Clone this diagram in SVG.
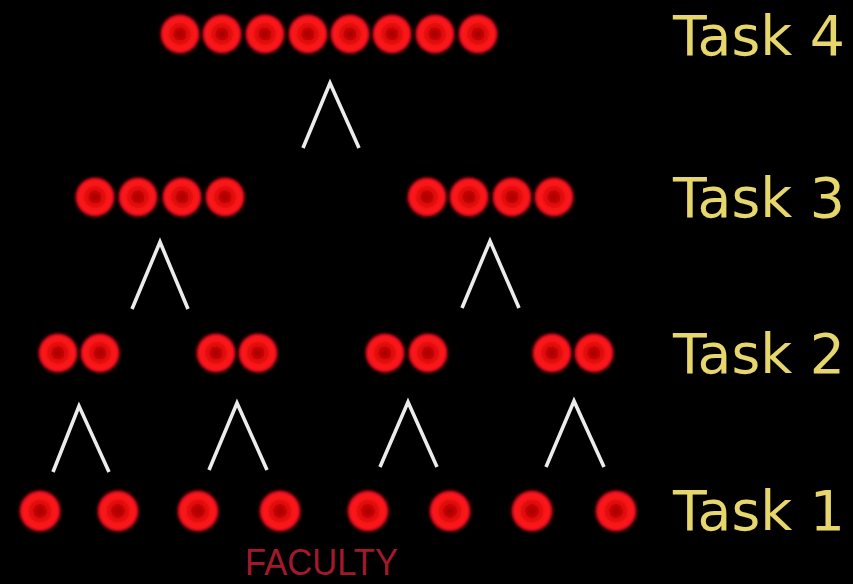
<svg xmlns="http://www.w3.org/2000/svg" width="853" height="584" viewBox="0 0 853 584">
  <defs>
    <radialGradient id="ball" cx="50%" cy="50%" r="50%">
      <stop offset="0%" stop-color="#9a0000"/>
      <stop offset="30%" stop-color="#d00606"/>
      <stop offset="65%" stop-color="#ff1818"/>
      <stop offset="85%" stop-color="#f01020"/>
      <stop offset="100%" stop-color="#500008" stop-opacity="0.3"/>
    </radialGradient>
    <filter id="soft" x="-20%" y="-20%" width="140%" height="140%">
      <feGaussianBlur stdDeviation="0.9"/>
    </filter>
  </defs>
  <style>
    .b { fill: url(#ball); filter: url(#soft); }
    .caret { fill: none; stroke: #ececec; stroke-width: 3.6; stroke-linejoin: miter; stroke-linecap: butt; }
    .lbl { font-family: "DejaVu Sans", "Liberation Sans", sans-serif; font-size: 56px; fill: #e6d66c; }
    .fac { font-family: "Liberation Sans Narrow", "Liberation Sans", sans-serif; font-size: 36px; fill: #a01a2c; }
  </style>
  <rect x="0" y="0" width="853" height="584" fill="#000000"/>

  <g id="task4">
    <circle class="b" cx="180" cy="34" r="21"/>
    <circle class="b" cx="222" cy="34" r="21"/>
    <circle class="b" cx="265" cy="34" r="21"/>
    <circle class="b" cx="308" cy="34" r="21"/>
    <circle class="b" cx="350" cy="34" r="21"/>
    <circle class="b" cx="392" cy="34" r="21"/>
    <circle class="b" cx="435" cy="34" r="21"/>
    <circle class="b" cx="478" cy="34" r="21"/>
  </g>

  <g id="task3-left">
    <circle class="b" cx="95" cy="197" r="21"/>
    <circle class="b" cx="138" cy="197" r="21"/>
    <circle class="b" cx="182" cy="197" r="21"/>
    <circle class="b" cx="225" cy="197" r="21"/>
  </g>
  <g id="task3-right">
    <circle class="b" cx="427" cy="197" r="21"/>
    <circle class="b" cx="469" cy="197" r="21"/>
    <circle class="b" cx="512" cy="197" r="21"/>
    <circle class="b" cx="554" cy="197" r="21"/>
  </g>

  <g id="task2-a">
    <circle class="b" cx="58" cy="353" r="21"/>
    <circle class="b" cx="100" cy="353" r="21"/>
  </g>
  <g id="task2-b">
    <circle class="b" cx="216" cy="353" r="21"/>
    <circle class="b" cx="258" cy="353" r="21"/>
  </g>
  <g id="task2-c">
    <circle class="b" cx="385" cy="353" r="21"/>
    <circle class="b" cx="428" cy="353" r="21"/>
  </g>
  <g id="task2-d">
    <circle class="b" cx="552" cy="353" r="21"/>
    <circle class="b" cx="594" cy="353" r="21"/>
  </g>

  <g id="task1">
    <circle class="b" cx="40" cy="511" r="22"/>
    <circle class="b" cx="118" cy="511" r="22"/>
    <circle class="b" cx="198" cy="511" r="22"/>
    <circle class="b" cx="280" cy="511" r="22"/>
    <circle class="b" cx="368" cy="511" r="22"/>
    <circle class="b" cx="450" cy="511" r="22"/>
    <circle class="b" cx="532" cy="511" r="22"/>
    <circle class="b" cx="616" cy="511" r="22"/>
  </g>

  <g id="connectors">
    <polyline class="caret" points="303,148 330,83 359,148"/>
    <polyline class="caret" points="132,309 160,242 188,309"/>
    <polyline class="caret" points="462,308 490,241 519,308"/>
    <polyline class="caret" points="53,472 79,406 109,472"/>
    <polyline class="caret" points="209,470 237,403 267,470"/>
    <polyline class="caret" points="380,467 408,402 437,467"/>
    <polyline class="caret" points="546,467 574,401 604,467"/>
  </g>

  <g id="labels">
    <text class="lbl" x="673" y="55" textLength="172" lengthAdjust="spacingAndGlyphs">Task 4</text>
    <text class="lbl" x="673" y="217" textLength="172" lengthAdjust="spacingAndGlyphs">Task 3</text>
    <text class="lbl" x="673" y="373" textLength="172" lengthAdjust="spacingAndGlyphs">Task 2</text>
    <text class="lbl" x="673" y="530" textLength="172" lengthAdjust="spacingAndGlyphs">Task 1</text>
    <text class="fac" x="245" y="575" textLength="153" lengthAdjust="spacingAndGlyphs">FACULTY</text>
  </g>
</svg>
